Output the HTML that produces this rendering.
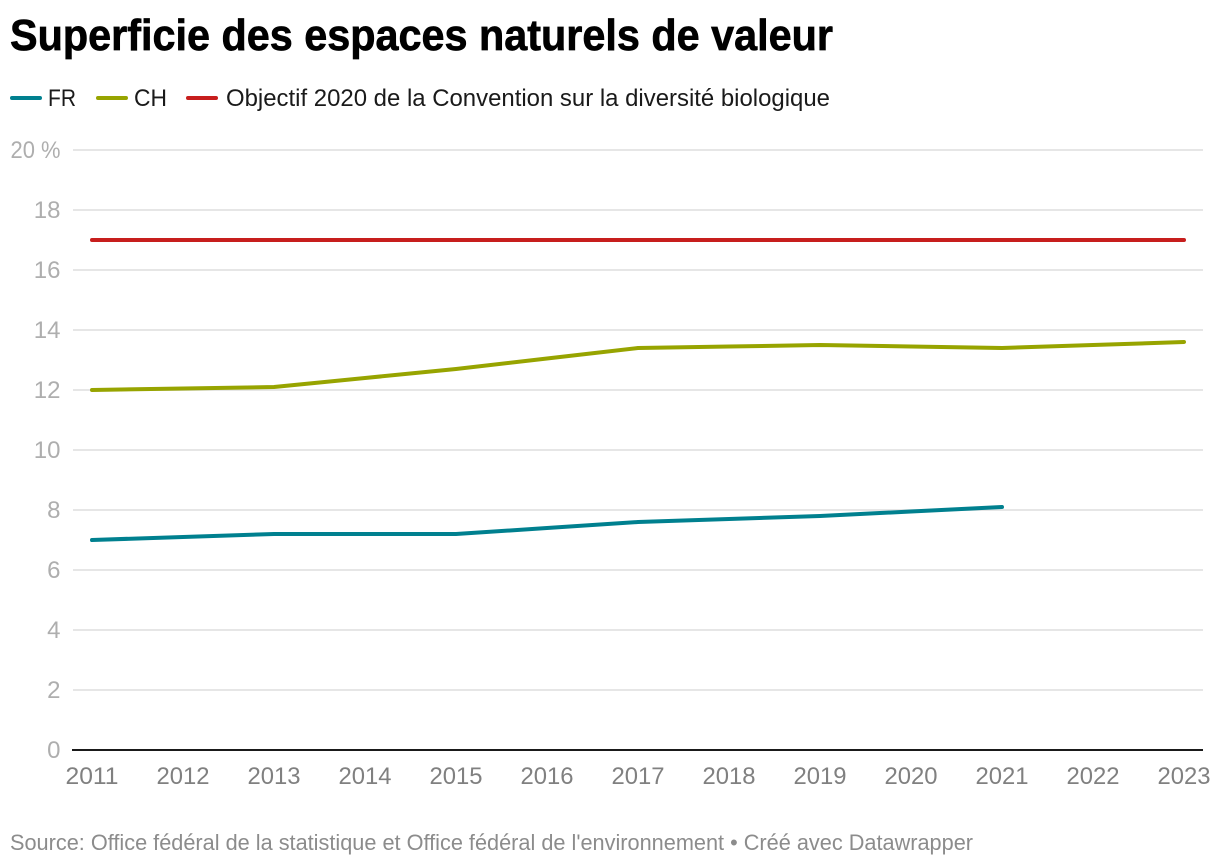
<!DOCTYPE html>
<html lang="fr">
<head>
<meta charset="utf-8">
<title>Superficie des espaces naturels de valeur</title>
<style>
  html, body { margin: 0; padding: 0; background: #fff; }
  body { width: 1220px; height: 866px; overflow: hidden; }
  svg { display: block; font-family: "Liberation Sans", sans-serif; }
</style>
</head>
<body>
<svg id="chart" width="1220" height="866" viewBox="0 0 1220 866" xmlns="http://www.w3.org/2000/svg">
  <rect x="0" y="0" width="1220" height="866" fill="#ffffff"/>
  <text x="10" y="50" font-size="44" font-weight="700" fill="#000000" stroke="#000000" stroke-width="0.7" textLength="823" lengthAdjust="spacingAndGlyphs">Superficie des espaces naturels de valeur</text>

  <g>
    <g>
      <line x1="12" x2="40" y1="98" y2="98" stroke="#00808f" stroke-width="4" stroke-linecap="round"/>
      <text x="48" y="106" font-size="24" fill="#1a1a1a" textLength="28" lengthAdjust="spacingAndGlyphs">FR</text>
    </g>
    <g>
      <line x1="98" x2="126" y1="98" y2="98" stroke="#97a400" stroke-width="4" stroke-linecap="round"/>
      <text x="134" y="106" font-size="24" fill="#1a1a1a" textLength="33" lengthAdjust="spacingAndGlyphs">CH</text>
    </g>
    <g>
      <line x1="188" x2="216" y1="98" y2="98" stroke="#c71e1d" stroke-width="4" stroke-linecap="round"/>
      <text x="226" y="106" font-size="24" fill="#1a1a1a" textLength="604" lengthAdjust="spacingAndGlyphs">Objectif 2020 de la Convention sur la diversité biologique</text>
    </g>
  </g>

  <g id="grid"></g>
  <g id="y-axis"></g>
  <g id="x-axis"></g>
  <g id="series"></g>

  <text x="10" y="850" font-size="22" fill="#8c8c8c" textLength="963" lengthAdjust="spacingAndGlyphs">Source: Office fédéral de la statistique et Office fédéral de l'environnement • Créé avec Datawrapper</text>
</svg>

<script>
const years = [2011, 2012, 2013, 2014, 2015, 2016, 2017, 2018, 2019, 2020, 2021, 2022, 2023];
const yTicks = [0, 2, 4, 6, 8, 10, 12, 14, 16, 18, 20];
const frValues = [7, 7.1, 7.2, 7.2, 7.2, 7.4, 7.6, 7.7, 7.8, 7.95, 8.1, null, null];
const chValues = [12, 12.05, 12.1, 12.4, 12.7, 13.05, 13.4, 13.45, 13.5, 13.45, 13.4, 13.5, 13.6];
const targetValues = [17, 17, 17, 17, 17, 17, 17, 17, 17, 17, 17, 17, 17];

const SVG_NS = 'http://www.w3.org/2000/svg';
const xScale = function (year) {
  return 92 + (year - years[0]) * (1184 - 92) / (years[years.length - 1] - years[0]);
};
const yScale = function (value) {
  return 750 - value * (750 - 150) / 20;
};
const make = function (tag, attrs, parent) {
  const el = document.createElementNS(SVG_NS, tag);
  Object.keys(attrs).forEach(function (k) { el.setAttribute(k, attrs[k]); });
  parent.appendChild(el);
  return el;
};

const gridGroup = document.getElementById('grid');
const yGroup = document.getElementById('y-axis');
const xGroup = document.getElementById('x-axis');
const seriesGroup = document.getElementById('series');

yTicks.forEach(function (tick) {
  if (tick !== 0) {
    const line = make('line', { x1: 73, x2: 1203, y1: yScale(tick), y2: yScale(tick), stroke: '#e6e6e6', 'stroke-width': 2 }, gridGroup);
    
    
  }
  const label = make('text', { x: 60.5, y: yScale(tick) + 8, 'text-anchor': 'end', 'font-size': 24, fill: '#aeaeae' }, yGroup);
  const isTop = tick === yTicks[yTicks.length - 1];
  label.textContent = isTop ? tick + ' %' : String(tick);
  if (isTop) {
    label.setAttribute('textLength', '50');
    label.setAttribute('lengthAdjust', 'spacingAndGlyphs');
  }
  
  
});

const baseline = make('line', { x1: 72, x2: 1203, y1: yScale(0), y2: yScale(0), stroke: '#1a1a1a', 'stroke-width': 2 }, xGroup);



years.forEach(function (year) {
  const label = make('text', { x: xScale(year), y: 784, 'text-anchor': 'middle', 'font-size': 24, fill: '#808080', textLength: 53, lengthAdjust: 'spacingAndGlyphs' }, xGroup);
  label.textContent = String(year);
  
  
});

const drawSeries = function (values, color, name) {
  const points = [];
  values.forEach(function (v, i) {
    if (v !== null) {
      points.push(xScale(years[i]) + ',' + yScale(v));
    }
  });
  const line = make('polyline', { points: points.join(' '), fill: 'none', stroke: color, 'stroke-width': 4, 'stroke-linejoin': 'round', 'stroke-linecap': 'round' }, seriesGroup);
  
  
};

drawSeries(targetValues, '#c71e1d', 'series-line-objectif');
drawSeries(chValues, '#97a400', 'series-line-ch');
drawSeries(frValues, '#00808f', 'series-line-fr');
</script>
</body>
</html>
